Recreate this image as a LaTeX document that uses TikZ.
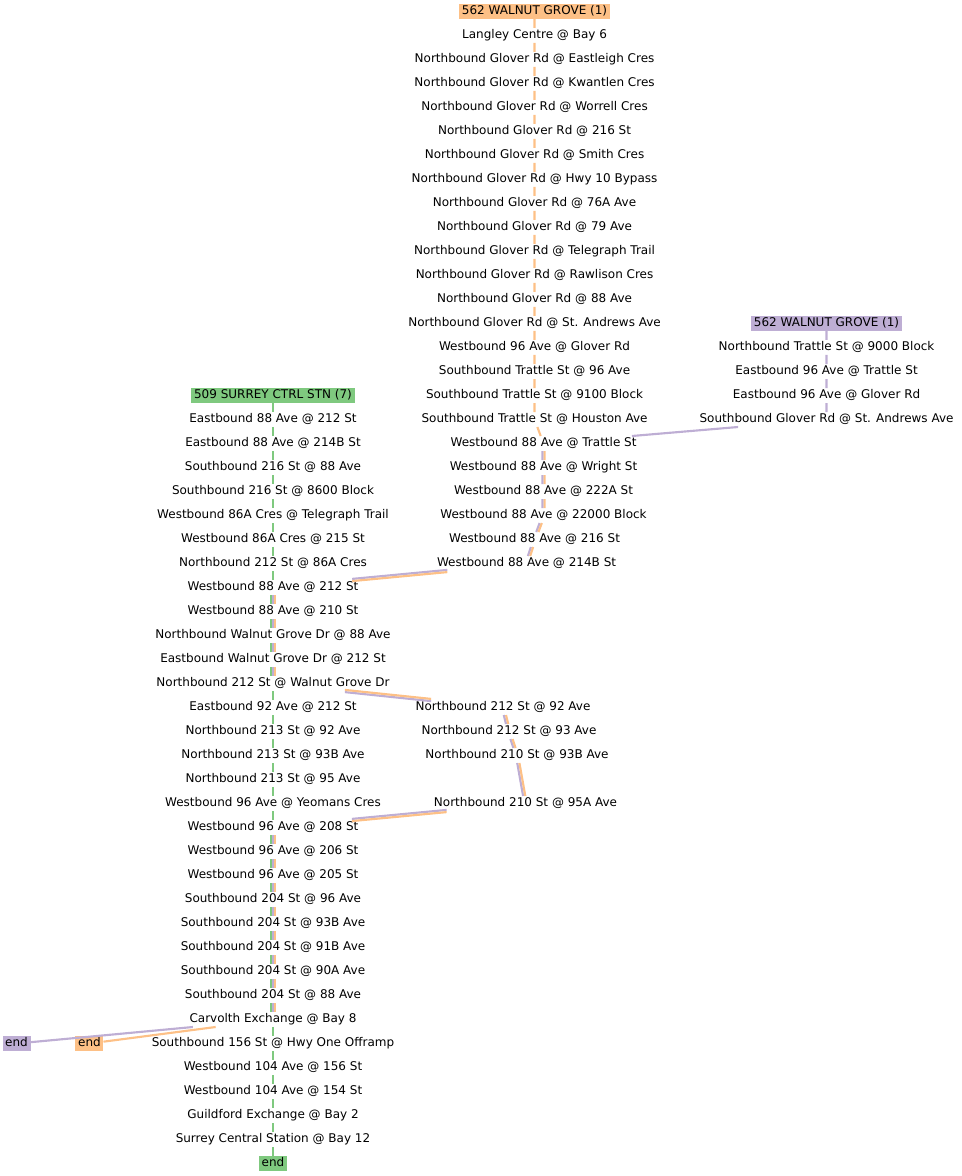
\documentclass[tikz,border=0pt]{standalone}
\usepackage{fontspec}
\setmainfont{DejaVu Sans}
\usepackage{tikz}
\usetikzlibrary{positioning}
\definecolor{acGreen}{HTML}{7FC97F}
\definecolor{acPurple}{HTML}{BEAED4}
\definecolor{acOrange}{HTML}{FDC086}

\begin{document}
\begin{tikzpicture}[
  font=\fontsize{9}{11}\selectfont,
  node distance=6.75pt,
  %% Plain stop label
  stop/.style={
    inner xsep=1pt,
    inner ysep=1.125pt,
    outer sep=0pt,
    text height=6.9pt,
    text depth=2.1pt
  },
  %% Route head / end box (1-arg: colour)
  routebox/.style={
    stop,
    inner xsep=2pt,
    fill=#1
  },
  %% Route leg (1-arg: colour)
  leg/.style={line width=1.6pt, draw=#1},
  %% Side offsets for shared legs
  lft/.style={transform canvas={xshift=-#1}},
  rgt/.style={transform canvas={xshift=#1}},
  upp/.style={transform canvas={yshift=#1}},
  dwn/.style={transform canvas={yshift=-#1}}
]
\useasboundingbox (0,0) rectangle (720.75pt,-882pt);

%% ---- 562 Walnut Grove (orange) ----
\node[routebox=acOrange] (o0) at (400.9pt,-8.625pt) {562 WALNUT GROVE (1)};
\node[stop, below=of o0]  (o1)  {Langley Centre @ Bay 6};
\node[stop, below=of o1]  (o2)  {Northbound Glover Rd @ Eastleigh Cres};
\node[stop, below=of o2]  (o3)  {Northbound Glover Rd @ Kwantlen Cres};
\node[stop, below=of o3]  (o4)  {Northbound Glover Rd @ Worrell Cres};
\node[stop, below=of o4]  (o5)  {Northbound Glover Rd @ 216 St};
\node[stop, below=of o5]  (o6)  {Northbound Glover Rd @ Smith Cres};
\node[stop, below=of o6]  (o7)  {Northbound Glover Rd @ Hwy 10 Bypass};
\node[stop, below=of o7]  (o8)  {Northbound Glover Rd @ 76A Ave};
\node[stop, below=of o8]  (o9)  {Northbound Glover Rd @ 79 Ave};
\node[stop, below=of o9]  (o10) {Northbound Glover Rd @ Telegraph Trail};
\node[stop, below=of o10] (o11) {Northbound Glover Rd @ Rawlison Cres};
\node[stop, below=of o11] (o12) {Northbound Glover Rd @ 88 Ave};
\node[stop, below=of o12] (o13) {Northbound Glover Rd @ St. Andrews Ave};
\node[stop, below=of o13] (o14) {Westbound 96 Ave @ Glover Rd};
\node[stop, below=of o14] (o15) {Southbound Trattle St @ 96 Ave};
\node[stop, below=of o15] (o16) {Southbound Trattle St @ 9100 Block};
\node[stop, below=of o16] (o17) {Southbound Trattle St @ Houston Ave};

%% ---- 562 Walnut Grove (purple) ----
\node[routebox=acPurple] (p0) at (619.9pt,-242.625pt) {562 WALNUT GROVE (1)};
\node[stop, below=of p0] (p1) {Northbound Trattle St @ 9000 Block};
\node[stop, below=of p1] (p2) {Eastbound 96 Ave @ Trattle St};
\node[stop, below=of p2] (p3) {Eastbound 96 Ave @ Glover Rd};
\node[stop, below=of p3] (p4) {Southbound Glover Rd @ St. Andrews Ave};

%% ---- Shared 88 Ave stops ----
\node[stop, below=of o17, xshift=6.75pt]  (b18) {Westbound 88 Ave @ Trattle St};
\node[stop, below=of b18]                 (b19) {Westbound 88 Ave @ Wright St};
\node[stop, below=of b19]                 (b20) {Westbound 88 Ave @ 222A St};
\node[stop, below=of b20]                 (b21) {Westbound 88 Ave @ 22000 Block};
\node[stop, below=of b21, xshift=-6.75pt] (b22) {Westbound 88 Ave @ 216 St};
\node[stop, below=of b22, xshift=-6pt]    (b23) {Westbound 88 Ave @ 214B St};

%% ---- 509 Surrey Ctrl Stn (green) ----
\node[routebox=acGreen] (g0) at (204.75pt,-296.625pt) {509 SURREY CTRL STN (7)};
\node[stop, below=of g0]  (g1)  {Eastbound 88 Ave @ 212 St};
\node[stop, below=of g1]  (g2)  {Eastbound 88 Ave @ 214B St};
\node[stop, below=of g2]  (g3)  {Southbound 216 St @ 88 Ave};
\node[stop, below=of g3]  (g4)  {Southbound 216 St @ 8600 Block};
\node[stop, below=of g4]  (g5)  {Westbound 86A Cres @ Telegraph Trail};
\node[stop, below=of g5]  (g6)  {Westbound 86A Cres @ 215 St};
\node[stop, below=of g6]  (g7)  {Northbound 212 St @ 86A Cres};
\node[stop, below=of g7]  (g8)  {Westbound 88 Ave @ 212 St};
\node[stop, below=of g8]  (g9)  {Westbound 88 Ave @ 210 St};
\node[stop, below=of g9]  (g10) {Northbound Walnut Grove Dr @ 88 Ave};
\node[stop, below=of g10] (g11) {Eastbound Walnut Grove Dr @ 212 St};
\node[stop, below=of g11] (g12) {Northbound 212 St @ Walnut Grove Dr};
\node[stop, below=of g12] (g13) {Eastbound 92 Ave @ 212 St};
\node[stop, below=of g13] (g14) {Northbound 213 St @ 92 Ave};
\node[stop, below=of g14] (g15) {Northbound 213 St @ 93B Ave};
\node[stop, below=of g15] (g16) {Northbound 213 St @ 95 Ave};
\node[stop, below=of g16] (g17) {Westbound 96 Ave @ Yeomans Cres};
\node[stop, below=of g17] (g18) {Westbound 96 Ave @ 208 St};
\node[stop, below=of g18] (g19) {Westbound 96 Ave @ 206 St};
\node[stop, below=of g19] (g20) {Westbound 96 Ave @ 205 St};
\node[stop, below=of g20] (g21) {Southbound 204 St @ 96 Ave};
\node[stop, below=of g21] (g22) {Southbound 204 St @ 93B Ave};
\node[stop, below=of g22] (g23) {Southbound 204 St @ 91B Ave};
\node[stop, below=of g23] (g24) {Southbound 204 St @ 90A Ave};
\node[stop, below=of g24] (g25) {Southbound 204 St @ 88 Ave};
\node[stop, below=of g25] (g26) {Carvolth Exchange @ Bay 8};
\node[stop, below=of g26] (g27) {Southbound 156 St @ Hwy One Offramp};
\node[stop, below=of g27] (g28) {Westbound 104 Ave @ 156 St};
\node[stop, below=of g28] (g29) {Westbound 104 Ave @ 154 St};
\node[stop, below=of g29] (g30) {Guildford Exchange @ Bay 2};
\node[stop, below=of g30] (g31) {Surrey Central Station @ Bay 12};
\node[routebox=acGreen, below=of g31] (g32) {end};

%% ---- Shared 212 St / 210 St detour ----
\node[stop] (c29) at (377.25pt,-530.625pt) {Northbound 212 St @ 92 Ave};
\node[stop, below=of c29, xshift=4.5pt]      (c30) {Northbound 212 St @ 93 Ave};
\node[stop, below=of c30, xshift=6pt]        (c31) {Northbound 210 St @ 93B Ave};
\node[stop, below=24.75pt of c31, xshift=6.4pt] (c33) {Northbound 210 St @ 95A Ave};

%% ---- Route ends ----
\node[routebox=acPurple] (pend) at (12.4pt,-782.625pt) {end};
\node[routebox=acOrange] (oend) at (67.1pt,-782.625pt) {end};

%% ---- Single legs ----
\draw[leg=acOrange] (o0) -- (o1) -- (o2) -- (o3) -- (o4) -- (o5) -- (o6)
  -- (o7) -- (o8) -- (o9) -- (o10) -- (o11) -- (o12) -- (o13) -- (o14)
  -- (o15) -- (o16) -- (o17) -- (b18);
\draw[leg=acPurple] (p0) -- (p1) -- (p2) -- (p3) -- (p4) -- (b18);
\draw[leg=acGreen] (g0) -- (g1) -- (g2) -- (g3) -- (g4) -- (g5) -- (g6)
  -- (g7) -- (g8);
\draw[leg=acGreen] (g12) -- (g13) -- (g14) -- (g15) -- (g16) -- (g17) -- (g18);
\draw[leg=acGreen] (g26) -- (g27) -- (g28) -- (g29) -- (g30) -- (g31) -- (g32);
\draw[leg=acPurple] (g26) -- (pend);
\draw[leg=acOrange] (g26) -- (oend);

%% ---- Two routes side by side ----
\draw[leg=acPurple, lft=0.825pt] (b18) -- (b19) -- (b20) -- (b21) -- (b22) -- (b23);
\draw[leg=acOrange, rgt=0.825pt] (b18) -- (b19) -- (b20) -- (b21) -- (b22) -- (b23);
\draw[leg=acPurple, upp=0.825pt] (b23) -- (g8);
\draw[leg=acOrange, dwn=0.825pt] (b23) -- (g8);
\draw[leg=acPurple, dwn=0.825pt] (g12) -- (c29);
\draw[leg=acOrange, upp=0.825pt] (g12) -- (c29);
\draw[leg=acPurple, lft=0.825pt] (c29) -- (c30) -- (c31) -- (c33);
\draw[leg=acOrange, rgt=0.825pt] (c29) -- (c30) -- (c31) -- (c33);
\draw[leg=acPurple, upp=0.825pt] (c33) -- (g18);
\draw[leg=acOrange, dwn=0.825pt] (c33) -- (g18);

%% ---- Three routes side by side ----
\draw[leg=acGreen, lft=1.65pt] (g8) -- (g9) -- (g10) -- (g11) -- (g12);
\draw[leg=acPurple]            (g8) -- (g9) -- (g10) -- (g11) -- (g12);
\draw[leg=acOrange, rgt=1.65pt] (g8) -- (g9) -- (g10) -- (g11) -- (g12);
\draw[leg=acGreen, lft=1.65pt] (g18) -- (g19) -- (g20) -- (g21) -- (g22)
  -- (g23) -- (g24) -- (g25) -- (g26);
\draw[leg=acPurple]            (g18) -- (g19) -- (g20) -- (g21) -- (g22)
  -- (g23) -- (g24) -- (g25) -- (g26);
\draw[leg=acOrange, rgt=1.65pt] (g18) -- (g19) -- (g20) -- (g21) -- (g22)
  -- (g23) -- (g24) -- (g25) -- (g26);

\end{tikzpicture}
\end{document}
